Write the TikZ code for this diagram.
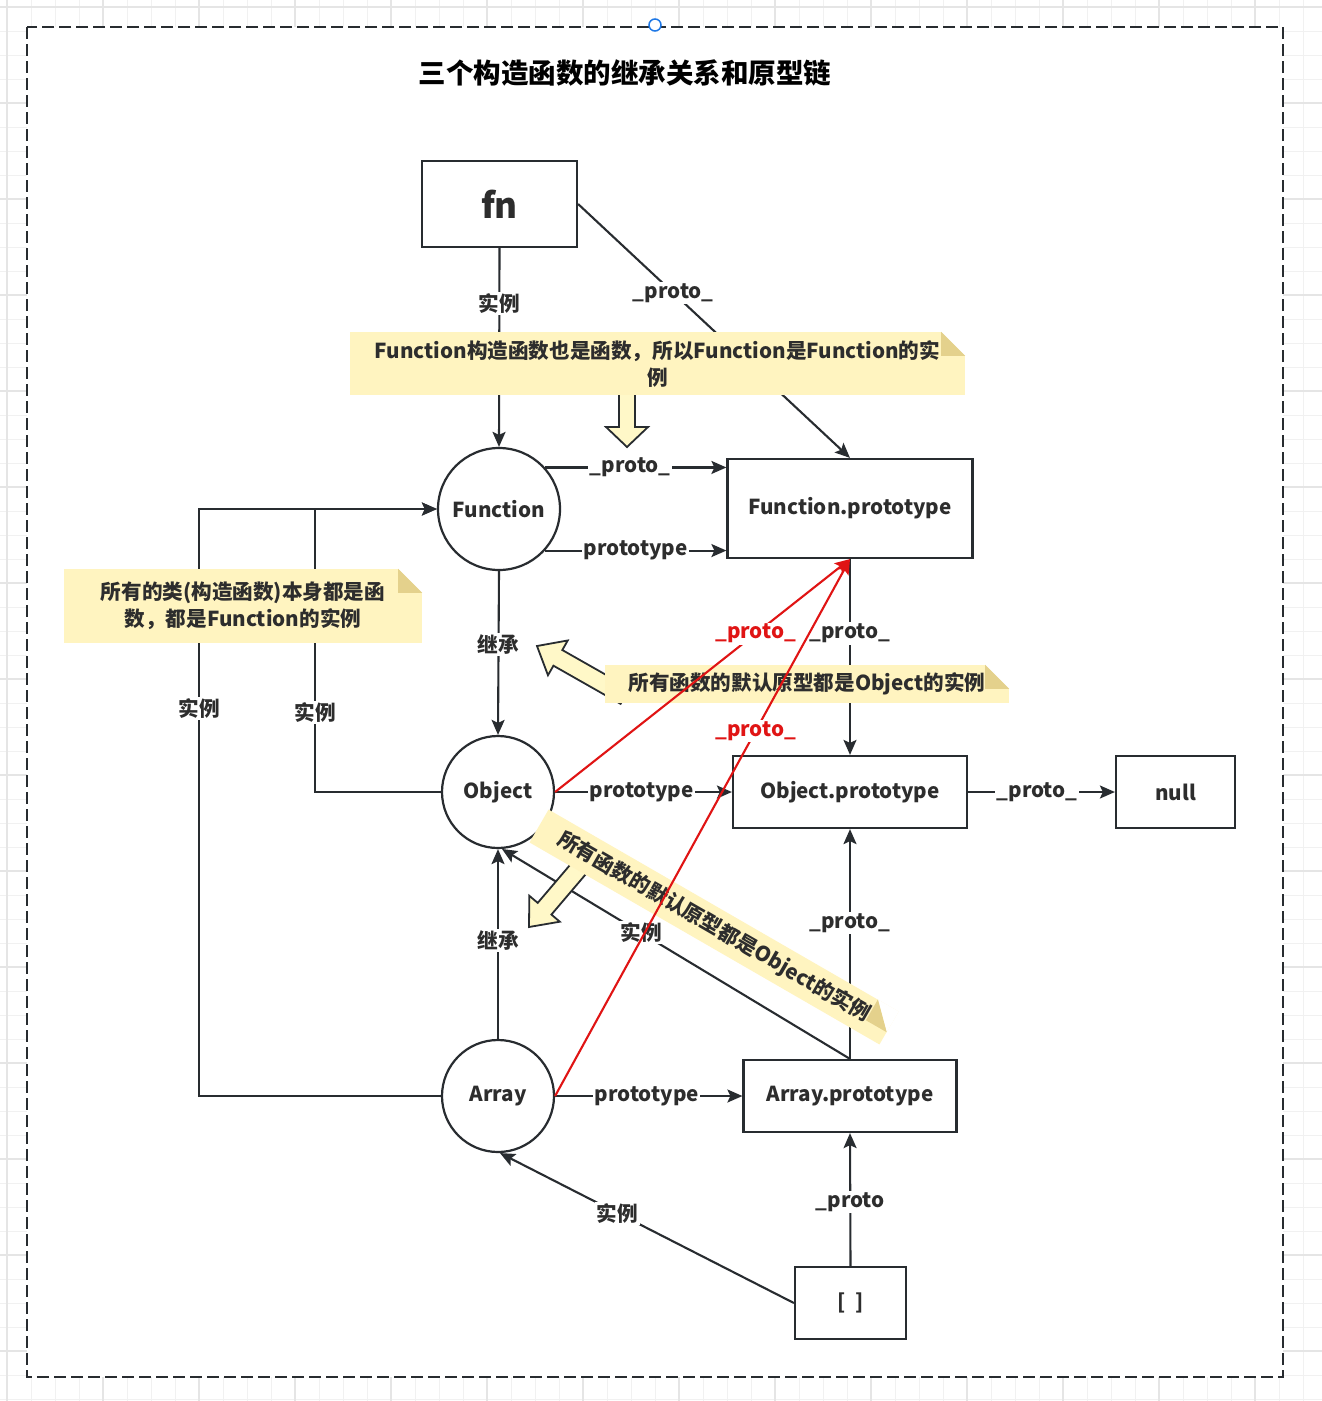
\documentclass[tikz,border=0pt]{standalone}
\usepackage{fontspec}
\setmainfont{Noto Sans CJK SC}
\usetikzlibrary{arrows.meta,calc}

\definecolor{ink}{RGB}{40,44,48}
\definecolor{txt}{RGB}{45,45,45}
\definecolor{notefill}{RGB}{255,244,192}
\definecolor{notefold}{RGB}{228,209,140}
\definecolor{arrowfill}{RGB}{255,248,200}
\definecolor{redline}{RGB}{224,20,20}
\definecolor{gridthin}{RGB}{241,241,241}
\definecolor{gridthick}{RGB}{229,229,229}
\definecolor{handle}{RGB}{30,120,230}

\tikzset{
  every node/.style={text=txt, font=\bfseries\fontsize{20.6pt}{24pt}\selectfont},
  box/.style={draw=ink, line width=2.2pt, fill=white, rectangle, inner sep=0pt},
  ring/.style={draw=ink, line width=2.2pt, fill=white, circle, inner sep=0pt},
  tipstyle/.style={-{Stealth[length=15pt,width=13pt,inset=3pt]}},
  conn/.style={draw=ink, line width=2.1pt, tipstyle},
  redconn/.style={draw=redline, line width=2.1pt, tipstyle},
  lbl/.style={fill=white, inner sep=1.5pt},
  redlbl/.style={lbl, text=redline},
  notebox/.style={fill=notefill, inner sep=0pt, align=center,
    font=\bfseries\fontsize{20.6pt}{27pt}\selectfont},
}

% folded corner of a note node
\newcommand\notefold[1]{%
  \path ($(#1.north east)!24pt!(#1.north west)$) coordinate (#1-fa)
        ($(#1.north east)!24pt!(#1.south east)$) coordinate (#1-fb);
  \fill[white] (#1-fa) -- (#1.north east) -- (#1-fb) -- cycle;
  \fill[notefold] (#1-fa) -- (#1-fb) -- ($(#1-fa)+(#1-fb)-(#1.north east)$) -- cycle;
}

% outlined block arrow: tail, tip, head length, shaft half width, head half width
\newcommand\blockarrow[5]{%
  \path ($(#2)!#3!(#1)$) coordinate (ba-b);
  \draw[ink, line width=1.8pt, fill=arrowfill, line join=miter]
    ($(#1)!#4!90:(#2)$) -- ($(ba-b)!#4!90:(#2)$) -- ($(ba-b)!#5!90:(#2)$) -- (#2)
    -- ($(ba-b)!#5!-90:(#2)$) -- ($(ba-b)!#4!-90:(#2)$) -- ($(#1)!#4!-90:(#2)$) -- cycle;
}

\begin{document}
\begin{tikzpicture}[x=1pt, y=-1pt]
\useasboundingbox (0,0) rectangle (1322,1401);

% background grid
\foreach \x in {7,31,...,1322} \draw[gridthin, line width=1pt] (\x,0) -- (\x,1401);
\foreach \y in {7,31,...,1401} \draw[gridthin, line width=1pt] (0,\y) -- (1322,\y);
\foreach \x in {7,103,...,1322} \draw[gridthick, line width=1.4pt] (\x,0) -- (\x,1401);
\foreach \y in {7,103,...,1401} \draw[gridthick, line width=1.4pt] (0,\y) -- (1322,\y);

% dashed frame and its handle
\draw[ink, line width=2pt, dash pattern=on 12pt off 5pt, fill=white] (27,27) rectangle (1283,1377);
\draw[handle, line width=1.5pt, fill=white] (655,25) circle (6pt);

% title
\node[text=black, font=\bfseries\fontsize{27.5pt}{31pt}\selectfont] (title) at (625,73) {三个构造函数的继承关系和原型链};

% objects
\node[box, minimum width=155pt, minimum height=86pt, font=\bfseries\fontsize{35pt}{40pt}\selectfont] (fn) at (499.5,204) {fn};
\node[ring, minimum size=122pt] (Function) at (499,509) {Function};
\node[box, minimum width=245pt, minimum height=99pt] (Fp) at (850,508.5) {Function.prototype};
\node[ring, minimum size=112pt] (Object) at (498,792) {Object};
\node[box, minimum width=234pt, minimum height=72pt] (Op) at (850,792) {Object.prototype};
\node[box, minimum width=119pt, minimum height=72pt] (null) at (1175.5,792) {null};
\node[ring, minimum size=112pt] (Array) at (498,1096) {Array};
\node[box, minimum width=213pt, minimum height=72pt] (Ap) at (850,1096) {Array.prototype};
\node[box, minimum width=111pt, minimum height=72pt] (arr) at (850.5,1303) {[\ \ ]};

% black connectors
\draw[conn] (fn.south) -- node[lbl, pos=0.28] {实例} (Function.north);
\draw[conn] (fn.east) -- node[lbl, pos=0.35] {\_proto\_} (Fp.north);
\draw[conn] (Function.42) -- node[lbl, pos=0.47] {\_proto\_} (Function.42 -| Fp.west);
\draw[conn] (Function.-42) -- node[lbl, pos=0.5] {prototype} (Function.-42 -| Fp.west);
\draw[conn] (Function.south) -- node[lbl, pos=0.45] {继承} (Object.north);
\draw[conn] (Object.east) -- node[lbl, pos=0.49] {prototype} (Op.west);
\draw[conn] (Fp.south) -- node[lbl, pos=0.38] {\_proto\_} (Op.north);
\draw[conn] (Op.east) -- node[lbl, pos=0.47] {\_proto\_} (null.west);
\draw[conn] (Ap.north) -- node[lbl, pos=0.59] {\_proto\_} (Op.south);
\draw[conn] (Array.north) -- node[lbl, pos=0.52] {继承} (Object.south);
\draw[conn] (Ap.north) -- node[lbl, pos=0.6] {实例} (Object.-86);
\draw[conn] (Array.east) -- node[lbl, pos=0.49] {prototype} (Ap.west);
\draw[conn] (arr.north) -- node[lbl, pos=0.48] {\_proto} (Ap.south);
\draw[conn] (arr.west) -- node[lbl, pos=0.6] {实例} (Array.-88);
\coordinate (k1) at (315,509);
\coordinate (k2) at (199,509);
\draw[conn] (Object.west) -| node[lbl, pos=0.64] {实例} (k1) -- (Function.west);
\draw[conn] (Array.west) -| node[lbl, pos=0.83] {实例} (k2) -- (Function.west);

% block arrows pointing out of the notes
\blockarrow{627,385}{627,447}{20pt}{8pt}{21pt}
\blockarrow{625,696}{537,646}{24pt}{9pt}{20pt}
\blockarrow{592,853}{529,927}{24pt}{9pt}{20pt}

% notes
\node[notebox, minimum width=615pt, minimum height=63pt] (n1) at (657.5,363.5)
  {Function构造函数也是函数，所以Function是Function的实\\例};
\notefold{n1}
\node[notebox, minimum width=358pt, minimum height=74pt] (n2) at (243,606)
  {所有的类(构造函数)本身都是函\\数，都是Function的实例};
\notefold{n2}
\node[notebox, minimum width=404pt, minimum height=38pt] (n3) at (807,684)
  {所有函数的默认原型都是Object的实例};
\notefold{n3}
\node[notebox, minimum width=404pt, minimum height=38pt, rotate=-30] (n4) at (714,927)
  {所有函数的默认原型都是Object的实例};
\notefold{n4}

% red connectors
\draw[redconn] (Object.east) -- node[redlbl, pos=0.68] {\_proto\_} (Fp.south);
\draw[redconn] (Array.east) -- node[redlbl, pos=0.68] {\_proto\_} (Fp.south);
\end{tikzpicture}
\end{document}
